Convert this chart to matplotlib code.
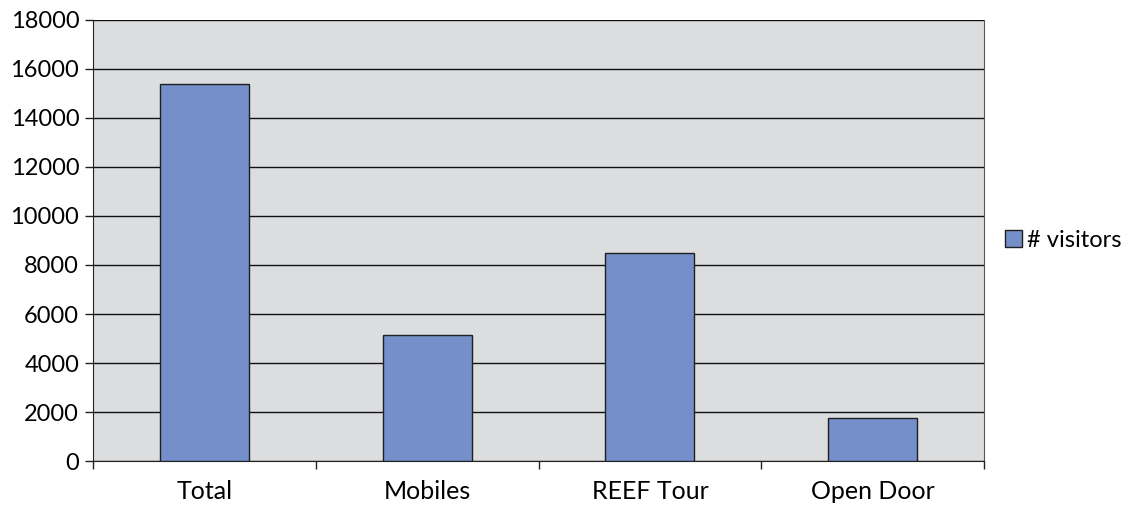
import numpy as np
import matplotlib.pyplot as plt

categories = ['Total', 'Mobiles', 'REEF Tour', 'Open Door']
visitors = [15370, 5130, 8500, 1755]
yticks = [0, 2000, 4000, 6000, 8000, 10000, 12000, 14000, 16000, 18000]

plt.rcParams['font.family'] = ['Lato', 'DejaVu Sans']

fig = plt.figure(figsize=(11.36, 5.07), dpi=100)
ax = fig.add_axes([0.0819, 0.0907, 0.7843, 0.8699])
ax.set_facecolor('#dcdddf')

x = np.arange(len(categories))
ax.bar(x, visitors, width=0.4, color='#748fc9', edgecolor='#1f1f1f',
       linewidth=1, label='# visitors', zorder=3)

ax.set_xlim(-0.5, len(categories) - 0.5)
ax.set_ylim(0, 18000)
ax.set_yticks(yticks)
ax.set_yticklabels([str(v) for v in yticks], fontsize=17)
ax.yaxis.grid(True, color='#111111', linewidth=1)
ax.set_axisbelow(True)

# category labels centred, ticks at boundaries
ax.set_xticks(x)
ax.set_xticklabels(categories, fontsize=18)
ax.tick_params(axis='x', which='major', length=0, pad=14)
ax.set_xticks(np.arange(-0.5, len(categories)), minor=True)
ax.tick_params(axis='x', which='minor', length=6, width=1, color='#222222')
ax.tick_params(axis='y', length=6, width=1, color='#222222', pad=4)

for s in ['left', 'bottom']:
    ax.spines[s].set_color('#222222')
ax.spines['right'].set_color('#555555')
ax.spines['top'].set_visible(False)

ax.legend(loc='center left', bbox_to_anchor=(1.0, 0.5), frameon=False,
          fontsize=17, handlelength=0.7, handleheight=0.7, handletextpad=0.2)

plt.savefig('out.png', dpi=100)
